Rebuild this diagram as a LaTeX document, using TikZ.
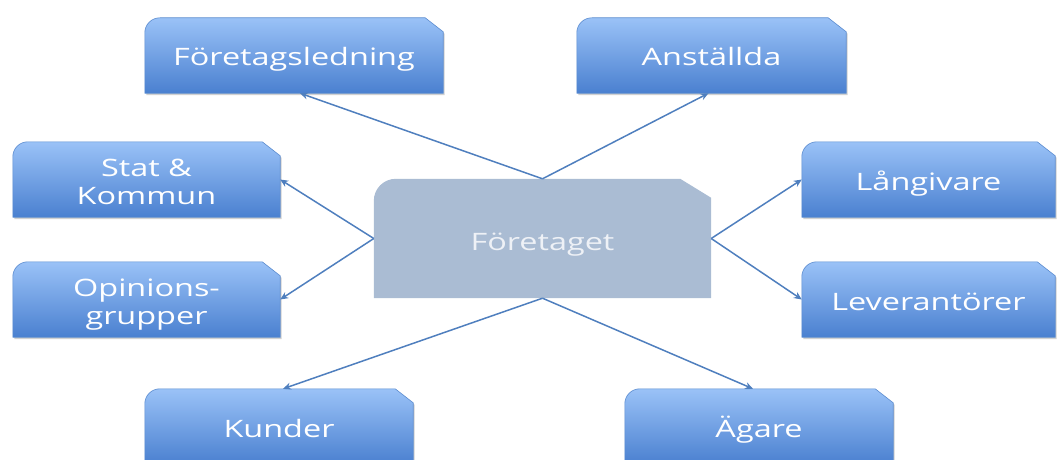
\documentclass[tikz,border=0pt]{standalone}
\usepackage{fontspec}
\setmainfont{Open Sans}[FakeStretch=1.35]
\usetikzlibrary{arrows.meta,calc,backgrounds}
\definecolor{btop}{HTML}{9AC2F7}
\definecolor{bbot}{HTML}{4A80D0}
\definecolor{bline}{HTML}{5A8BCF}
\definecolor{cfill}{HTML}{AABCD3}
\definecolor{ctext}{HTML}{EEF1F6}
\definecolor{arr}{HTML}{4F7FBE}
\newcommand\vs{\rule[-7pt]{0pt}{35pt}}
\newcommand\vtopr{\rule{0pt}{28pt}}
\newcommand\vbotr{\rule[-7pt]{0pt}{7pt}}
\tikzset{
  blk/.style={rectangle, minimum height=75pt, inner sep=0pt, text=white,
    font=\fontsize{24}{28}\selectfont, align=center},
  ctr/.style={rectangle, minimum width=337pt, minimum height=119pt, inner sep=0pt,
    text=ctext, font=\fontsize{24}{28}\selectfont},
  bluefill/.style={top color=btop, bottom color=bbot, draw=bline, line width=0.6pt},
  greyfill/.style={fill=cfill},
  shadowfill/.style={fill=black, opacity=0.18, transform canvas={shift={(1.5pt,-2pt)}}},
  conn/.style={draw=arr, line width=1.5pt, -{Stealth[length=8pt,width=7pt]}},
}
\newcommand\mysnip[5]{% name, radius, cutx, cuty, options
  \path[#5] (#1.south west) -- ([yshift=-#2pt]#1.north west)
    arc[start angle=180,end angle=90,radius=#2pt]
    -- ([xshift=-#3pt]#1.north east) -- ([yshift=-#4pt]#1.north east)
    -- (#1.south east) -- cycle;
}
\begin{document}
\begin{tikzpicture}[x=1pt,y=1pt]
\useasboundingbox (0,0) rectangle (1057,459);
\node[blk, minimum width=298pt] (fl) at (294,403.5) {\vs Företagsledning};
\node[blk, minimum width=269pt] (an) at (711.5,403.5) {\vs Anställda};
\node[blk, minimum width=267pt] (sk) at (146.5,279.5) {\vtopr Stat \&\\Kommun\vbotr};
\node[blk, minimum width=267pt] (og) at (146.5,159.5) {\vtopr Opinions-\\grupper\vbotr};
\node[blk, minimum width=253pt] (lg) at (928.5,279.5) {\vs Långivare};
\node[blk, minimum width=253pt] (lv) at (928.5,159.5) {\vs Leverantörer};
\node[blk, minimum width=268pt] (ku) at (279,32.5) {\vs Kunder};
\node[blk, minimum width=268pt] (ag) at (759,32.5) {\vs Ägare};
\node[ctr] (ft) at (542.5,220.5) {\rule[-8pt]{0pt}{40pt}Företaget};
\begin{scope}[on background layer]
  \foreach \n in {fl,an,sk,og,lg,lv,ku,ag}{
    \mysnip{\n}{15}{18}{14}{shadowfill}
    \mysnip{\n}{15}{18}{14}{bluefill}
  }
  \mysnip{ft}{22}{31}{19}{greyfill}
\end{scope}
\draw[conn] (ft.north) -- ([xshift=6pt]fl.south);
\draw[conn] (ft.north) -- ([xshift=-3pt]an.south);
\draw[conn] (ft.west) -- (sk.east);
\draw[conn] (ft.west) -- (og.east);
\draw[conn] (ft.east) -- (lg.west);
\draw[conn] (ft.east) -- (lv.west);
\draw[conn] (ft.south) -- ([xshift=4pt]ku.north);
\draw[conn] (ft.south) -- ([xshift=-6pt]ag.north);
\end{tikzpicture}
\end{document}
